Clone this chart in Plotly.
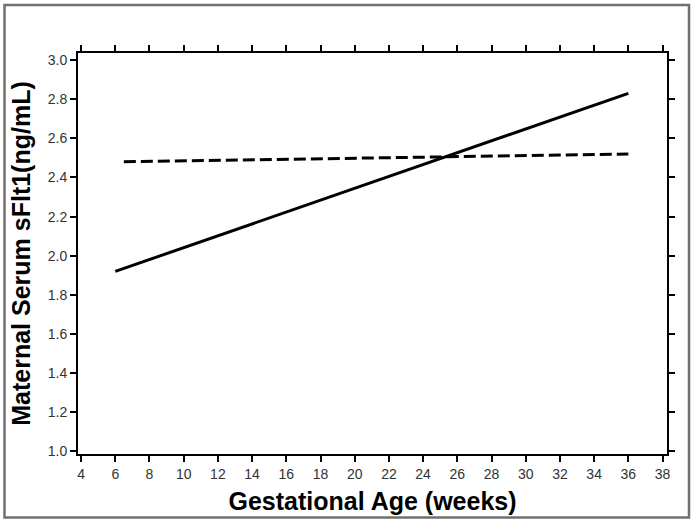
import plotly.graph_objects as go

# Data
ga_solid = [6, 36]
sflt1_solid = [1.92, 2.83]
ga_dashed = [6.5, 36]
sflt1_dashed = [2.48, 2.52]

x_ticks = list(range(4, 39, 2))
y_ticks = [1.0, 1.2, 1.4, 1.6, 1.8, 2.0, 2.2, 2.4, 2.6, 2.8, 3.0]
y_tick_labels = [f"{v:.1f}" for v in y_ticks]

fig = go.Figure()
fig.add_trace(go.Scatter(x=ga_solid, y=sflt1_solid, mode="lines",
                         line=dict(color="black", width=3), showlegend=False))
fig.add_trace(go.Scatter(x=ga_dashed, y=sflt1_dashed, mode="lines",
                         line=dict(color="black", width=3, dash="12px,5px"), showlegend=False))

axis_common = dict(showline=True, linecolor="black", linewidth=2, mirror="allticks",
                   ticks="outside", ticklen=6, tickwidth=1.5, tickcolor="black",
                   showgrid=False, zeroline=False,
                   tickfont=dict(family="Arial, Liberation Sans", size=14, color="#333333"))

fig.update_xaxes(range=[3.82, 38.26], tickvals=x_ticks,
                 title=dict(text="Gestational Age (weeks)", standoff=12,
                            font=dict(family="Arial, Liberation Sans", size=25, color="black",
                                      weight="bold")),
                 **axis_common)
fig.update_yaxes(range=[0.987, 3.036], tickvals=y_ticks, ticktext=y_tick_labels,
                 title=dict(text="Maternal Serum sFlt1(ng/mL)", standoff=10,
                            font=dict(family="Arial, Liberation Sans", size=25, color="black",
                                      weight="bold")),
                 **axis_common)

# outer frame
fig.add_shape(type="rect", xref="paper", yref="paper",
              x0=(4.5 - 78) / 589, x1=(689 - 78) / 589,
              y0=(454 - 517.5) / 401, y1=(454 - 5) / 401,
              line=dict(color="#707070", width=2.5), layer="below")

fig.update_layout(width=695, height=523, plot_bgcolor="white", paper_bgcolor="white",
                  margin=dict(l=78, r=28, t=53, b=69, autoexpand=False),
                  font=dict(family="Arial, Liberation Sans"))

fig.write_html("out.html", config={"displayModeBar": False},
               post_script="document.body.style.margin='0';document.body.style.overflow='hidden';")
